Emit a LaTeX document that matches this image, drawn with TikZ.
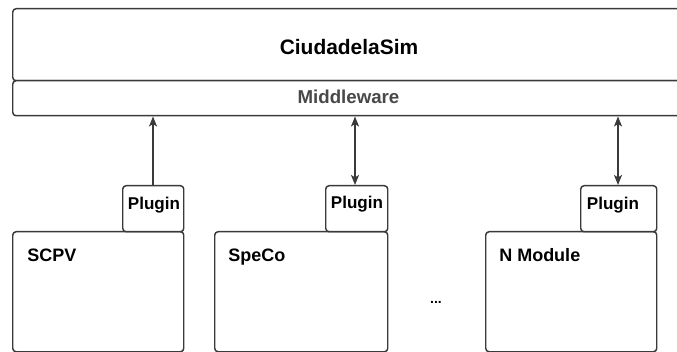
\documentclass[tikz,border=0pt]{standalone}
\usepackage{fontspec}
\setmainfont{Liberation Sans}
\usetikzlibrary{arrows.meta}
\definecolor{linec}{HTML}{3A3A3A}
\definecolor{mwtext}{HTML}{484848}
\begin{document}
\begin{tikzpicture}[x=0.75pt,y=-0.75pt,
  box/.style={draw=linec, line width=1.1pt, rounded corners=2.5pt, fill=white, inner sep=0pt, anchor=north west},
  lbl/.style={font=\bfseries\fontsize{13.5}{16}\selectfont, text=black, inner sep=0pt},
  plbl/.style={font=\bfseries\fontsize{12.8}{15}\selectfont, text=black, inner sep=0pt, anchor=base},
  arrowtip/.tip={Stealth[length=7.5pt,width=6pt,inset=1.8pt]},
  arr/.style={draw=linec, line width=1pt, -arrowtip},
  darr/.style={draw=linec, line width=1pt, arrowtip-arrowtip}]
\useasboundingbox (0,0) rectangle (677,352);
\clip (0,0) rectangle (677,352);
\fill[white] (0,0) rectangle (677,352);
% top
\node[box, minimum width=508.5pt, minimum height=54pt] (top) at (12,8) {};
\node[box, minimum width=508.5pt, minimum height=26.25pt] (mw) at (12,80) {};
\node[font=\bfseries\fontsize{15.7}{18}\selectfont, inner sep=0pt, anchor=base] (ctext) at (349,55) {CiudadelaSim};
\node[font=\bfseries\fontsize{14}{16}\selectfont, text=mwtext, inner sep=0pt, anchor=base] (mwtext) at (348.5,104) {Middleware};
% modules
\node[box, minimum width=128.25pt, minimum height=90pt] (m1) at (12,231) {};
\node[box, minimum width=129.75pt, minimum height=90pt] (m2) at (214,231) {};
\node[box, minimum width=128.25pt, minimum height=90pt] (m3) at (485,231) {};
\node[lbl, anchor=base west] (m1t) at (27,262) {SCPV};
\node[lbl, anchor=base west] (m2t) at (228,262) {SpeCo};
\node[lbl, anchor=base west] (m3t) at (499,261.5) {N Module};
% plugins
\node[box, minimum width=45.75pt, minimum height=34.5pt] (p1) at (122,185) {};
\node[box, minimum width=46.5pt, minimum height=34.5pt] (p2) at (325,185) {};
\node[box, minimum width=57pt, minimum height=34.5pt] (p3) at (580,185) {};
\node[plbl] (p1t) at (154,209.5) {Plugin};
\node[plbl] (p2t) at (357,208.5) {Plugin};
\node[plbl] (p3t) at (613,209.5) {Plugin};
% dots
\node[font=\bfseries\fontsize{10.5}{12}\selectfont, inner sep=0pt] (dots) at (436,302) {...};
% connectors
\draw[arr] (153,0 |- p1.north) -- (153,0 |- mw.south);
\draw[darr] (355,0 |- p2.north) -- (355,0 |- mw.south);
\draw[darr] (618,0 |- p3.north) -- (618,0 |- mw.south);
\end{tikzpicture}
\end{document}
